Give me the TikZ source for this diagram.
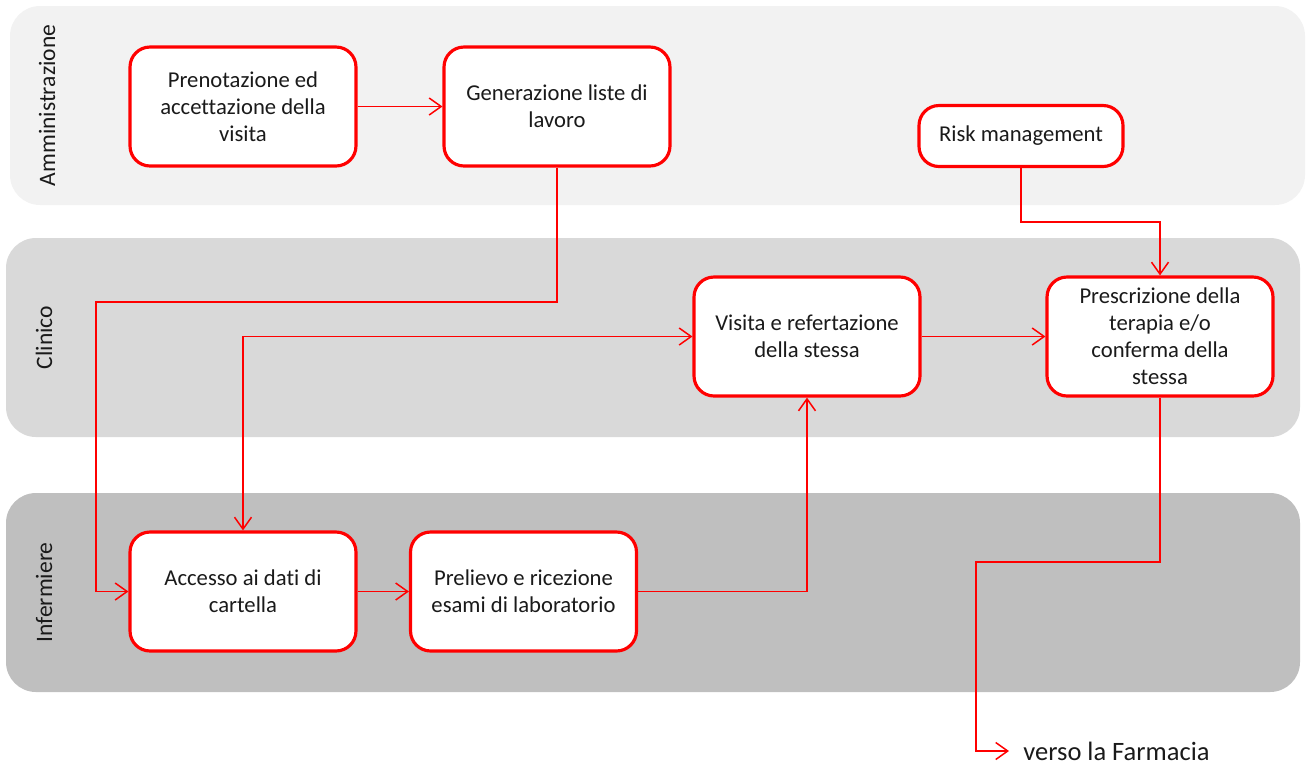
\documentclass[tikz,border=0pt]{standalone}
\usepackage{fontspec}
\setmainfont{Carlito}[Ligatures=NoCommon]
\usetikzlibrary{arrows.meta}
\definecolor{laneA}{HTML}{F2F2F2}
\definecolor{laneB}{HTML}{D9D9D9}
\definecolor{laneC}{HTML}{BFBFBF}
\definecolor{txt}{HTML}{1A1A1A}
\definecolor{lred}{HTML}{FF0000}
\tikzset{
  stepbox/.style={draw=lred, line width=1.8pt, rounded corners=0.4cm, fill=white,
    align=center, text=txt, inner sep=2pt,
    font=\fontsize{12.9}{15.4}\selectfont},
  wide/.style={minimum width=4.52cm, minimum height=2.38cm},
  lanelabel/.style={rotate=90, text=txt, font=\fontsize{13.4}{16}\selectfont, inner sep=0pt},
  conn/.style={draw=lred, line width=0.85pt, -{Straight Barb[length=0.24cm, width=0.34cm, line width=0.85pt]}},
  conn2/.style={draw=lred, line width=0.85pt, {Straight Barb[length=0.24cm, width=0.34cm, line width=0.85pt]}-{Straight Barb[length=0.24cm, width=0.34cm, line width=0.85pt]}}
}
\begin{document}
\begin{tikzpicture}[x=0.02cm, y=-0.02cm]
\useasboundingbox (0,0) rectangle (1308,772);
% lanes
\fill[laneA, rounded corners=0.6cm] (10,6) rectangle (1305,205);
\fill[laneB, rounded corners=0.6cm] (6,238) rectangle (1300,437);
\fill[laneC, rounded corners=0.6cm] (6,493) rectangle (1300,692);
\node[lanelabel] (lA) at (47,105.5) {Amministrazione};
\node[lanelabel] (lB) at (44,337.5) {Clinico};
\node[lanelabel] (lC) at (44,592.5) {Infermiere};
% boxes
\node[stepbox, wide] (pren) at (243,106.5) {Prenotazione ed\\accettazione della\\visita};
\node[stepbox, wide] (gen) at (557,106.5) {Generazione liste di\\lavoro};
\node[stepbox, minimum width=4.08cm, minimum height=1.22cm] (risk) at (1021,136) {Risk management};
\node[stepbox, wide] (vis) at (807,336.5) {Visita e refertazione\\della stessa};
\node[stepbox, wide] (pres) at (1160,336.5) {Prescrizione della\\terapia e/o\\conferma della\\stessa};
\node[stepbox, wide] (acc) at (243,591.5) {Accesso ai dati di\\cartella};
\node[stepbox, wide] (prel) at (523.5,591.5) {Prelievo e ricezione\\esami di laboratorio};
\node[anchor=west, inner xsep=0.28cm, inner ysep=0pt, text=txt, font=\fontsize{15.1}{18}\selectfont] (far) at (1009,751) {verso la Farmacia};
% junctions
\coordinate (j1) at (96,302);
\coordinate (j2) at (1090,222);
\coordinate (j3) at (976,562);
% connectors
\draw[conn] (pren.east) -- (gen.west);
\draw[conn] (gen.south) |- (j1) |- (acc.west);
\draw[conn2] (vis.west) -| (acc.north);
\draw[conn] (acc.east) -- (prel.west);
\draw[conn] (prel.east) -| (vis.south);
\draw[conn] (vis.east) -- (pres.west);
\draw[conn] (risk.south) |- (j2) -| (pres.north);
\draw[conn] (pres.south) |- (j3) |- (far.west);
\end{tikzpicture}
\end{document}
